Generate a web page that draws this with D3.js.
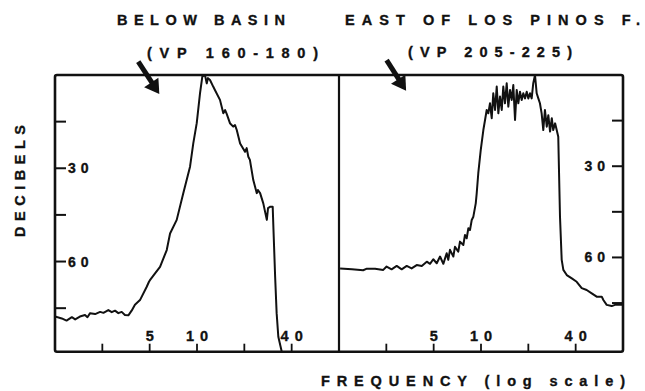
<!DOCTYPE html>
<html>
<head>
<meta charset="utf-8">
<script src="https://cdn.jsdelivr.net/npm/d3@7"></script>
<style>
  html, body { margin: 0; padding: 0; background: #fff; }
  svg { display: block; }
  text { font-family: "Liberation Sans", Arial, sans-serif; font-weight: bold; fill: #111; stroke: #111; stroke-width: 0.35px; }
</style>
</head>
<body>
<svg id="chart"></svg>
<script>
// ---- data ----
const panelTitles = ['BELOW BASIN', 'EAST OF LOS PINOS F.'];
const panelSubtitles = ['(VP 160-180)', '(VP 205-225)'];
const freqTicks = [2.5, 5, 10, 20, 40];
const freqLabels = [5, 10, 40];
const dbTicks = [15, 30, 45, 60, 75];
const dbLabels = [30, 60];

// [frequency (Hz), decibels down]
const belowBasin = [
  [1.25, 77.7], [1.38, 78.3], [1.48, 79.0], [1.60, 77.9], [1.68, 78.6], [1.80, 77.7],
  [1.94, 77.2], [2.01, 77.9], [2.09, 76.6], [2.25, 76.9], [2.42, 76.2], [2.54, 76.5],
  [2.73, 75.6], [2.87, 76.3], [3.01, 75.8], [3.16, 76.6], [3.32, 76.2], [3.48, 77.2],
  [3.66, 77.3], [3.84, 75.8], [4.03, 73.9], [4.34, 72.4], [4.79, 68.1], [4.95, 66.5],
  [5.02, 66.0], [5.41, 63.8], [5.82, 61.7], [6.42, 56.3], [6.74, 51.0], [7.43, 46.6],
  [8.18, 38.0], [9.03, 29.5], [9.47, 22.0], [9.96, 15.5], [10.45, 5.9], [10.81, 0.5],
  [11.24, 0.0], [11.53, 2.7], [11.75, 1.0], [12.1, 1.6], [12.7, 3.8], [13.0, 4.8],
  [14.0, 8.0], [14.7, 12.3], [15.1, 11.3], [15.45, 12.5], [16.2, 15.5], [17.0, 16.6],
  [17.45, 16.1], [17.9, 17.7], [18.8, 22.0], [20.2, 24.7], [20.7, 23.5], [21.2, 26.3],
  [21.7, 27.3], [22.8, 33.8], [24.0, 38.0], [24.4, 37.0], [25.2, 38.0], [26.4, 41.3],
  [27.8, 46.6], [28.3, 42.8], [29.1, 42.4], [30.3, 42.4], [30.6, 48.8], [31.4, 64.9],
  [32.1, 76.6], [32.9, 84.2], [34.6, 89.0]
];

const losPinos = [
  [1.27, 63.6], [1.51, 63.9], [1.78, 64.2], [1.88, 63.7], [2.12, 63.7], [2.39, 64.1],
  [2.51, 63.0], [2.70, 63.9], [2.91, 62.8], [3.13, 63.9], [3.37, 62.8], [3.62, 63.6],
  [3.90, 62.5], [4.20, 62.8], [4.52, 61.4], [4.74, 62.1], [4.97, 60.6], [5.23, 61.9],
  [5.49, 59.7], [5.76, 62.1], [6.05, 58.6], [6.19, 60.8], [6.35, 57.5], [6.67, 59.7],
  [6.83, 56.5], [7.17, 58.1], [7.35, 54.8], [7.72, 55.9], [7.91, 52.6], [8.11, 53.7],
  [8.31, 50.4], [8.51, 51.0], [8.73, 47.7], [8.94, 46.6], [9.26, 42.2], [9.39, 38.9],
  [9.61, 32.3], [9.96, 24.7], [10.35, 18.1], [10.61, 14.8], [10.87, 11.5], [11.13, 12.6],
  [11.41, 9.3], [11.70, 14.2], [11.97, 6.0], [12.28, 11.5], [12.59, 3.8], [12.89, 12.6],
  [13.21, 7.1], [13.55, 11.5], [13.86, 3.8], [14.21, 9.3], [14.57, 2.7], [14.92, 10.4],
  [15.30, 4.9], [15.68, 8.2], [16.05, 3.3], [16.46, 14.8], [16.87, 4.9], [17.27, 9.3],
  [17.70, 5.5], [18.15, 8.2], [18.58, 6.0], [19.05, 7.7], [19.53, 5.5], [20.0, 7.7],
  [20.49, 6.0], [21.0, 7.7], [21.5, 2.7], [22.05, 0.0], [22.6, 6.0], [23.15, 7.7],
  [23.7, 9.3], [24.3, 12.6], [24.9, 18.1], [25.5, 11.5], [26.2, 17.0], [26.8, 13.2],
  [27.5, 18.6], [28.2, 14.2], [28.8, 18.1], [29.6, 15.9], [30.3, 18.1], [31.0, 20.3],
  [31.8, 46.6], [32.6, 60.8], [33.4, 64.1], [35.1, 65.8], [37.8, 66.9], [40.6, 68.0],
  [43.7, 70.1], [47.0, 70.7], [50.6, 71.8], [54.4, 72.9], [58.6, 72.9], [60.0, 74.0],
  [63.0, 75.6], [67.8, 76.0], [71.2, 75.6], [80.0, 75.6]
];

// arrows: [tail, tip] in [frequency, decibels]
const arrowTails = [[4.23, -4.3], [2.51, -4.9]];
const arrowTips = [[5.76, 6.1], [3.34, 5.2]];

// ---- layout ----
const width = 645, height = 391;
const plotTop = 75, plotBottom = 351.7;
const panels = [
  { x0: 55, x1: 339, dbMax: 89, series: belowBasin, tickSide: 'left' },
  { x0: 339, x1: 623, dbMax: 91, series: losPinos, tickSide: 'right' }
];

const svg = d3.select('#chart').attr('width', width).attr('height', height);
const defs = svg.append('defs');

panels.forEach((p, i) => {
  const x = d3.scaleLog().base(2).domain([1.25, 80]).range([p.x0, p.x1]);
  const y = d3.scaleLinear().domain([0, p.dbMax]).range([plotTop, plotBottom]);
  const g = svg.append('g').attr('class', 'panel-' + i);

  // clip so the trace stays in its box
  defs.append('clipPath').attr('id', 'clip-' + i)
    .append('rect')
    .attr('x', p.x0).attr('y', plotTop)
    .attr('width', p.x1 - p.x0).attr('height', plotBottom - plotTop);

  const line = d3.line().x(d => x(d[0])).y(d => y(d[1]));
  g.append('path')
    .datum(p.series)
    .attr('clip-path', `url(#clip-${i})`)
    .attr('d', line)
    .attr('fill', 'none')
    .attr('stroke', '#111')
    .attr('stroke-width', 2)
    .attr('stroke-linejoin', 'round');

  // frequency ticks along the bottom, pointing inward
  g.selectAll('line.xtick')
    .data(freqTicks)
    .join('line')
    .attr('class', 'xtick')
    .attr('x1', d => x(d)).attr('x2', d => x(d))
    .attr('y1', plotBottom).attr('y2', plotBottom - 8)
    .attr('stroke', '#111').attr('stroke-width', 1.8);

  g.selectAll('text.xlabel')
    .data(freqLabels)
    .join('text')
    .attr('class', 'xlabel')
    .attr('x', d => x(d) + 3)
    .attr('y', 341)
    .attr('text-anchor', 'middle')
    .attr('font-size', 14.5)
    .attr('letter-spacing', 6)
    .text(d => d);

  // decibel ticks, inward from the outer side
  const edge = p.tickSide === 'left' ? p.x0 : p.x1;
  const dir = p.tickSide === 'left' ? 1 : -1;
  g.selectAll('line.ytick')
    .data(dbTicks)
    .join('line')
    .attr('class', 'ytick')
    .attr('x1', edge).attr('x2', edge + dir * 11)
    .attr('y1', d => y(d)).attr('y2', d => y(d))
    .attr('stroke', '#111').attr('stroke-width', 2);

  g.selectAll('text.ylabel')
    .data(dbLabels)
    .join('text')
    .attr('class', 'ylabel')
    .attr('x', edge + dir * 13)
    .attr('y', d => y(d))
    .attr('dy', '0.36em')
    .attr('text-anchor', p.tickSide === 'left' ? 'start' : 'end')
    .attr('font-size', 14)
    .attr('letter-spacing', 5)
    .text(d => d);

  // arrow annotation
  const tail = [x(arrowTails[i][0]), y(arrowTails[i][1])];
  const tip = [x(arrowTips[i][0]), y(arrowTips[i][1])];
  const dx = tip[0] - tail[0], dy = tip[1] - tail[1];
  const len = Math.hypot(dx, dy);
  const ux = dx / len, uy = dy / len;
  const bx = tip[0] - ux * 14, by = tip[1] - uy * 14;
  g.append('line')
    .attr('x1', tail[0]).attr('y1', tail[1])
    .attr('x2', bx + ux * 2).attr('y2', by + uy * 2)
    .attr('stroke', '#111').attr('stroke-width', 5);
  g.append('path')
    .attr('d', `M${tip[0]},${tip[1]}L${bx - uy * 9},${by + ux * 9}L${bx + uy * 8},${by - ux * 8}Z`)
    .attr('fill', '#111');
});

// frame and divider
svg.append('rect')
  .attr('x', 55).attr('y', plotTop)
  .attr('width', 623 - 55).attr('height', plotBottom - plotTop)
  .attr('rx', 2)
  .attr('fill', 'none')
  .attr('stroke', '#111')
  .attr('stroke-width', 2.6);
svg.append('line')
  .attr('x1', 339).attr('x2', 339)
  .attr('y1', plotTop).attr('y2', plotBottom)
  .attr('stroke', '#111').attr('stroke-width', 2.2);

// titles
const titleSpecs = [
  { text: panelTitles[0], x: 117, y: 25, len: 168 },
  { text: panelTitles[1], x: 345, y: 25, len: 295 },
  { text: panelSubtitles[0], x: 147, y: 58, len: 171 },
  { text: panelSubtitles[1], x: 408, y: 57, len: 164 }
];
svg.selectAll('text.title')
  .data(titleSpecs)
  .join('text')
  .attr('class', 'title')
  .attr('x', d => d.x).attr('y', d => d.y)
  .attr('font-size', 14.5)
  .attr('textLength', d => d.len)
  .attr('lengthAdjust', 'spacing')
  .text(d => d.text);

// axis titles
svg.append('text')
  .attr('transform', 'translate(25,237) rotate(-90)')
  .attr('font-size', 14.5)
  .attr('textLength', 112)
  .attr('lengthAdjust', 'spacing')
  .text('DECIBELS');

svg.append('text')
  .attr('x', 321).attr('y', 386)
  .attr('font-size', 14.5)
  .attr('textLength', 304)
  .attr('lengthAdjust', 'spacing')
  .text('FREQUENCY (log scale)');
</script>
</body>
</html>
